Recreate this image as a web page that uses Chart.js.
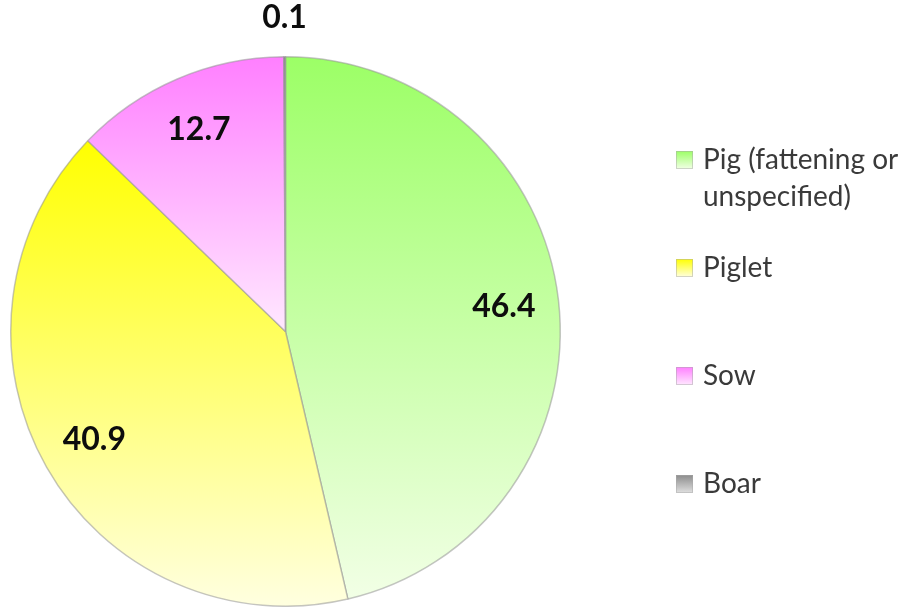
<!DOCTYPE html>
<html>
<head>
<meta charset="utf-8">
<script src="https://cdn.jsdelivr.net/npm/chart.js@4.4.1/dist/chart.umd.min.js"></script>
<style>
  html, body { margin: 0; padding: 0; background: #fff; }
  #wrap { width: 919px; height: 607px; }
</style>
</head>
<body>
<div id="wrap"><canvas id="myChart" width="919" height="607"></canvas></div>
<script>
const categories = ['Pig (fattening or unspecified)', 'Piglet', 'Sow', 'Boar'];
const legendLines = [['Pig (fattening or', 'unspecified)'], ['Piglet'], ['Sow'], ['Boar']];
const shares = [46.4, 40.9, 12.7, 0.1];

// top / bottom colour of each slice's vertical gradient
const topColors = ['#9cff66', '#ffff00', '#ff7fff', '#8c8c8c'];
const bottomColors = ['#f2ffe6', '#ffffe0', '#ffe8ff', '#e0e0e0'];

// vertical extent of a slice, so each one gets its own gradient
function sliceExtent(cy, r, a0, a1) {
    let ys = [cy, cy + r * Math.sin(a0), cy + r * Math.sin(a1)];
    [-Math.PI / 2, Math.PI / 2, 3 * Math.PI / 2].forEach(function (a) {
        if (a > a0 && a < a1) ys.push(cy + r * Math.sin(a));
    });
    return [Math.min.apply(null, ys), Math.max.apply(null, ys)];
}

function sliceFill(context) {
    const chart = context.chart;
    const area = chart.chartArea;
    const i = context.dataIndex;
    if (!area) return topColors[i];
    const total = shares.reduce(function (s, v) { return s + v; }, 0);
    let before = 0;
    for (let k = 0; k < i; k++) before += shares[k];
    const a0 = -Math.PI / 2 + before / total * 2 * Math.PI;
    const a1 = a0 + shares[i] / total * 2 * Math.PI;
    const cy = (area.top + area.bottom) / 2;
    const r = Math.min(area.width, area.height) / 2;
    const ext = sliceExtent(cy, r, a0, a1);
    const g = chart.ctx.createLinearGradient(0, ext[0], 0, Math.max(ext[1], ext[0] + 1));
    g.addColorStop(0, topColors[i]);
    g.addColorStop(1, bottomColors[i]);
    return g;
}

const labelsAndLegend = {
    id: 'labelsAndLegend',
    afterDatasetsDraw(chart) {
        const ctx = chart.ctx;
        const arcs = chart.getDatasetMeta(0).data;
        ctx.save();
        ctx.font = 'bold 32px Lato';
        ctx.fillStyle = '#0d0d0d';
        ctx.textAlign = 'center';
        ctx.textBaseline = 'middle';
        arcs.forEach(function (arc, i) {
            const mid = (arc.startAngle + arc.endAngle) / 2;
            const r = shares[i] < 1 ? arc.outerRadius + 39 : arc.outerRadius * 0.8;
            ctx.fillText(shares[i].toFixed(1), arc.x + Math.cos(mid) * r, arc.y + Math.sin(mid) * r);
        });

        // legend on the right
        ctx.font = '28px Lato';
        ctx.textAlign = 'left';
        legendLines.forEach(function (lines, i) {
            const y = 160 + i * 108;
            const g = ctx.createLinearGradient(0, y - 9, 0, y + 9);
            g.addColorStop(0, topColors[i]);
            g.addColorStop(1, bottomColors[i]);
            ctx.fillStyle = g;
            ctx.fillRect(676, y - 9, 17, 18);
            ctx.strokeStyle = 'rgba(170,170,170,0.5)';
            ctx.lineWidth = 1;
            ctx.strokeRect(676.5, y - 8.5, 16, 17);
            ctx.fillStyle = '#3a3a3a';
            lines.forEach(function (line, j) {
                ctx.fillText(line, 703, y + j * 37);
            });
        });
        ctx.restore();
    }
};

document.addEventListener('DOMContentLoaded', function () {
    const ctx = document.getElementById('myChart').getContext('2d');
    const myChart = new Chart(ctx, {
        type: 'pie',
        data: {
            labels: categories,
            datasets: [{
                data: shares,
                backgroundColor: sliceFill,
                borderColor: 'rgba(150,150,150,0.55)',
                borderWidth: 1.5
            }]
        },
        options: {
            responsive: false,
            animation: false,
            layout: {
                padding: { left: 9, right: 357, top: 56, bottom: 0 }
            },
            plugins: {
                legend: { display: false },
                tooltip: { enabled: false }
            }
        },
        plugins: [labelsAndLegend]
    });
});
</script>
</body>
</html>
